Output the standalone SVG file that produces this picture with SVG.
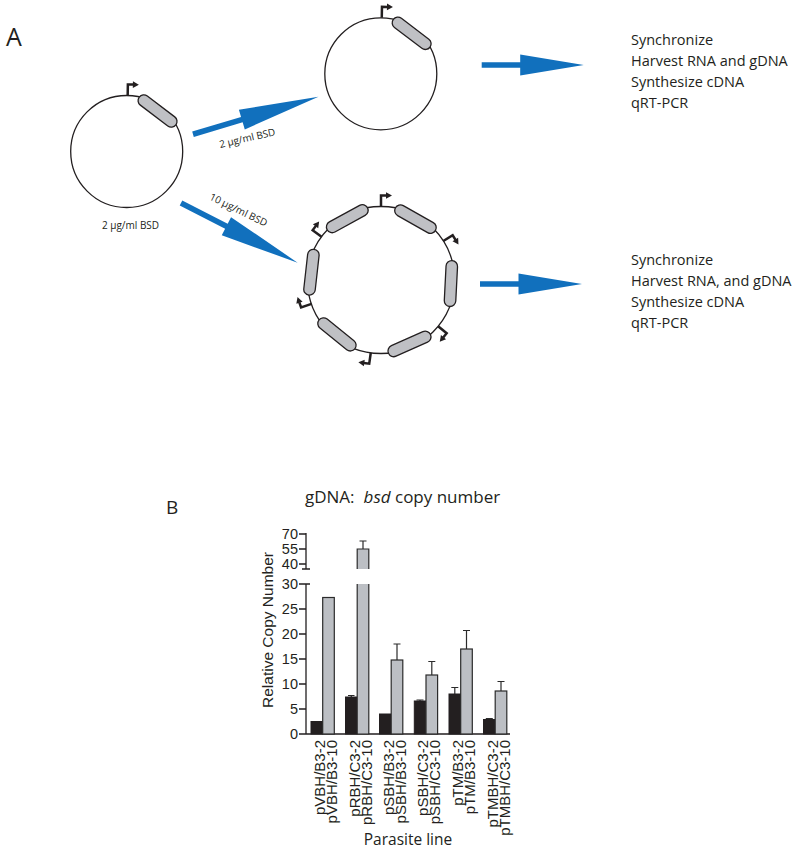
<svg xmlns="http://www.w3.org/2000/svg" xmlns:xlink="http://www.w3.org/1999/xlink" width="800" height="852" viewBox="0 0 800 852">
<style>
.lbl{font-family:"Open Sans","Liberation Sans",sans-serif;fill:#231f20}
.chart{font-family:"Liberation Sans",Arial,sans-serif;fill:#231f20}
.plas{fill:none;stroke:#231f20;stroke-width:1.3}
.arrow{fill:#1170bd}
.ax{stroke:#231f20;stroke-width:1.3;fill:none}
.bk{fill:#231f20;stroke:#231f20;stroke-width:1}
.gy{fill:#bcbfc4;stroke:#2b2b2b;stroke-width:1.2}
.gyf{fill:#bcbfc4}
.err{stroke:#2b2b2b;stroke-width:1.2;fill:none}
</style>
<defs>
<g id="prom"><path d="M0,0 V-11 H5.5" fill="none" stroke="#231f20" stroke-width="2.5"/><polygon points="5,-14.3 11,-11 5,-7.7" fill="#231f20"/></g>
<rect id="gene" x="-23" y="-5.75" width="46" height="11.5" rx="5.75" fill="#bfc0c4" stroke="#231f20" stroke-width="1.3"/>
<polygon id="bigarrow" points="0,-2.8 51,-2.8 51,-10.2 131,0 51,10.2 51,2.8 0,2.8"/>
<polygon id="harrow" points="0,-2.8 38.5,-2.8 38.5,-10.5 102,0 38.5,10.5 38.5,2.8 0,2.8"/>
</defs>
<rect width="800" height="852" fill="#fff"/>

<text class="lbl" x="6" y="46" font-size="25">A</text>

<g id="plasmid1">
<circle class="plas" cx="126.7" cy="151.5" r="56"/>
<use xlink:href="#prom" transform="translate(126.7,151.5) rotate(1) translate(0,-56)"/>
<use xlink:href="#gene" transform="translate(126.7,151.5) rotate(37.3) translate(0,-50.9)"/>
<text class="lbl" x="130.5" y="228.5" font-size="10" text-anchor="middle">2 µg/ml BSD</text>
</g>

<g id="plasmid2">
<circle class="plas" cx="380.8" cy="73.8" r="56"/>
<use xlink:href="#prom" transform="translate(380.8,73.8) rotate(1) translate(0,-56)"/>
<use xlink:href="#gene" transform="translate(380.8,73.8) rotate(37.3) translate(0,-50.9)"/>
</g>

<g id="plasmid3">
<circle class="plas" cx="381" cy="280" r="73.5"/>
<use xlink:href="#gene" transform="translate(381,280) rotate(-28.8) translate(0,-70)"/>
<use xlink:href="#gene" transform="translate(381,280) rotate(29.5) translate(0,-70)"/>
<use xlink:href="#gene" transform="translate(381,280) rotate(92.9) translate(0,-70)"/>
<use xlink:href="#gene" transform="translate(381,280) rotate(156) translate(0,-70)"/>
<use xlink:href="#gene" transform="translate(381,280) rotate(219) translate(0,-70)"/>
<use xlink:href="#gene" transform="translate(381,280) rotate(276.4) translate(0,-70)"/>
<use xlink:href="#prom" transform="translate(381,280) rotate(0) translate(0,-73.5)"/>
<use xlink:href="#prom" transform="translate(381,280) rotate(58) translate(0,-73.5)"/>
<use xlink:href="#prom" transform="translate(381,280) rotate(129) translate(0,-73.5)"/>
<use xlink:href="#prom" transform="translate(381,280) rotate(188) translate(0,-73.5)"/>
<use xlink:href="#prom" transform="translate(381,280) rotate(251) translate(0,-73.5)"/>
<use xlink:href="#prom" transform="translate(381,280) rotate(306) translate(0,-73.5)"/>
</g>

<g id="steps1">
<text class="lbl" x="631" font-size="14.5"><tspan x="631" y="45">Synchronize</tspan><tspan x="631" y="66">Harvest RNA and gDNA</tspan><tspan x="631" y="87">Synthesize cDNA</tspan><tspan x="631" y="108">qRT-PCR</tspan></text>
</g>
<g id="steps2">
<text class="lbl" x="631" font-size="14.5"><tspan x="631" y="265">Synchronize</tspan><tspan x="631" y="286">Harvest RNA, and gDNA</tspan><tspan x="631" y="307">Synthesize cDNA</tspan><tspan x="631" y="328">qRT-PCR</tspan></text>
</g>

<g id="connectors" class="arrow">
<use xlink:href="#bigarrow" transform="translate(193,134.3) rotate(-16.7)"/>
<use xlink:href="#bigarrow" transform="translate(181,203) rotate(27.1)"/>
<use xlink:href="#harrow" transform="translate(481.7,65)"/>
<use xlink:href="#harrow" transform="translate(480,284)"/>
<text class="lbl" font-size="10" text-anchor="middle" transform="translate(248,141.5) rotate(-13)">2 µg/ml BSD</text>
<text class="lbl" font-size="10" text-anchor="middle" transform="translate(237,213) rotate(26)">10 µg/ml BSD</text>
</g>

<g id="chart">
<text class="lbl" x="166" y="514" font-size="19">B</text>
<text class="lbl" x="305" y="503" font-size="17">gDNA:<tspan font-style="italic" dx="9">bsd</tspan> copy number</text>
<!-- axes -->
<path class="ax" d="M306,533 V569 M302,569 H310 M299,534 H306 M299,549 H306 M299,564 H306"/>
<path class="ax" d="M306,584 V734 H510 M299,584 H310 M299,609 H306 M299,634 H306 M299,659 H306 M299,684 H306 M299,709 H306 M299,734 H306"/>
<g class="chart" font-size="14.5" text-anchor="end">
<text x="298" y="539">70</text><text x="298" y="554">55</text><text x="298" y="569">40</text>
<text x="298" y="589">30</text><text x="298" y="614">25</text><text x="298" y="639">20</text>
<text x="298" y="664">15</text><text x="298" y="689">10</text><text x="298" y="714">5</text><text x="298" y="739">0</text>
</g>
<text class="chart" font-size="15.5" text-anchor="middle" transform="translate(273,630) rotate(-90)">Relative Copy Number</text>
<!-- error bars -->
<path class="err" d="M351.3,697 V695.5 M348,695.5 H354.5
M363,549 V541 M359.5,541 H366.5
M397,660 V644 M393.5,644 H400.5
M420,701 V700 M416.5,700 H423.5
M431.8,675 V661.5 M428.3,661.5 H435.3
M454.8,694 V687.5 M451.3,687.5 H458.3
M466.5,649 V630.5 M463,630.5 H470
M489.3,719.5 V718.5 M485.8,718.5 H492.8
M501,691 V681.5 M497.5,681.5 H504.5"/>
<!-- bars -->
<rect class="bk" x="311" y="721.5" width="11.5" height="12.5"/>
<rect class="gy" x="322.7" y="597.5" width="11.6" height="136.5"/>
<rect class="bk" x="345.5" y="697" width="11.5" height="37"/>
<rect class="gyf" x="357.2" y="584" width="11.6" height="150"/>
<path class="err" d="M357.2,584 V734 H368.8 V584"/>
<rect class="gyf" x="357.2" y="549" width="11.6" height="20"/>
<path class="err" d="M357.2,569 V549 H368.8 V569"/>
<rect class="bk" x="379.5" y="714" width="11.5" height="20"/>
<rect class="gy" x="391.2" y="660" width="11.6" height="74"/>
<rect class="bk" x="414.3" y="701" width="11.5" height="33"/>
<rect class="gy" x="426" y="675" width="11.6" height="59"/>
<rect class="bk" x="449" y="694" width="11.5" height="40"/>
<rect class="gy" x="460.7" y="649" width="11.6" height="85"/>
<rect class="bk" x="483.5" y="719.5" width="11.5" height="14.5"/>
<rect class="gy" x="495.2" y="691" width="11.6" height="43"/>
<!-- x labels -->
<g class="chart" font-size="15" text-anchor="end">
<text transform="translate(325,740) rotate(-90)">pVBH/B3-2</text>
<text transform="translate(337,740) rotate(-90)">pVBH/B3-10</text>
<text transform="translate(359.5,740) rotate(-90)">pRBH/C3-2</text>
<text transform="translate(371.5,740) rotate(-90)">pRBH/C3-10</text>
<text transform="translate(393.5,740) rotate(-90)">pSBH/B3-2</text>
<text transform="translate(405.5,740) rotate(-90)">pSBH/B3-10</text>
<text transform="translate(428.3,740) rotate(-90)">pSBH/C3-2</text>
<text transform="translate(440.3,740) rotate(-90)">pSBH/C3-10</text>
<text transform="translate(463,740) rotate(-90)">pTM/B3-2</text>
<text transform="translate(475,740) rotate(-90)">pTM/B3-10</text>
<text transform="translate(497.5,740) rotate(-90)">pTMBH/C3-2</text>
<text transform="translate(509.5,740) rotate(-90)">pTMBH/C3-10</text>
</g>
<text class="lbl" x="408" y="845" font-size="15.5" text-anchor="middle">Parasite line</text>
</g>
</svg>
